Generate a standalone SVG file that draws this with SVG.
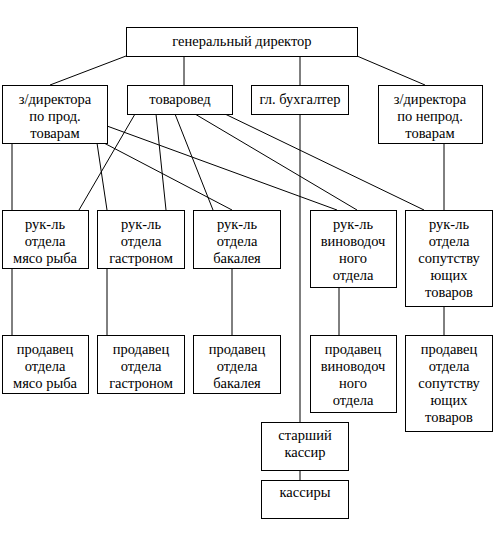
<svg xmlns="http://www.w3.org/2000/svg" width="496" height="537" viewBox="0 0 496 537" font-family="Liberation Serif, DejaVu Serif, serif">
<style>
rect{fill:#fff;stroke:#000;stroke-width:1}
line{stroke:#000;stroke-width:1}
text{font-size:14.5px;text-anchor:middle;fill:#000}
</style>
<rect x="0" y="0" width="496" height="537" style="stroke:none"/>
<g id="connectors">
<line x1="126" y1="56" x2="50" y2="85"/>
<line x1="184" y1="56" x2="184" y2="85"/>
<line x1="300" y1="56" x2="300" y2="85"/>
<line x1="357" y1="56" x2="425" y2="85"/>
<line x1="12" y1="143" x2="12" y2="210"/>
<line x1="97" y1="143" x2="107" y2="210"/>
<line x1="104" y1="143" x2="232" y2="210"/>
<line x1="107" y1="126" x2="337" y2="210"/>
<line x1="135" y1="114" x2="79" y2="210"/>
<line x1="156" y1="114" x2="166" y2="210"/>
<line x1="175" y1="114" x2="213" y2="210"/>
<line x1="195" y1="114" x2="357" y2="210"/>
<line x1="225" y1="114" x2="424" y2="210"/>
<line x1="444" y1="143" x2="444" y2="210"/>
<line x1="300" y1="114" x2="300" y2="422"/>
<line x1="12" y1="268" x2="12" y2="335"/>
<line x1="107" y1="268" x2="107" y2="335"/>
<line x1="232" y1="268" x2="232" y2="335"/>
<line x1="339" y1="287" x2="339" y2="335"/>
<line x1="444" y1="306" x2="444" y2="335"/>
<line x1="300" y1="470" x2="300" y2="480"/>
</g>
<g id="gen-director"><rect x="126.5" y="27.5" width="231" height="29"/><text x="242" y="46">генеральный директор</text></g>
<g id="zam-prod"><rect x="2.5" y="85.5" width="105" height="58"/><text x="55" y="104">з/директора</text><text x="55" y="121">по прод.</text><text x="55" y="138">товарам</text></g>
<g id="tovaroved"><rect x="127.5" y="85.5" width="105" height="29"/><text x="180" y="104">товаровед</text></g>
<g id="gl-buh"><rect x="251.5" y="85.5" width="97" height="29"/><text x="300" y="104">гл. бухгалтер</text></g>
<g id="zam-neprod"><rect x="378.5" y="85.5" width="104" height="58"/><text x="430" y="104">з/директора</text><text x="430" y="121">по непрод.</text><text x="430" y="138">товарам</text></g>
<g id="ruk-myaso"><rect x="2.5" y="210.5" width="86" height="58"/><text x="45" y="229">рук-ль</text><text x="45" y="246">отдела</text><text x="45" y="263">мясо рыба</text></g>
<g id="ruk-gastronom"><rect x="97.5" y="210.5" width="87" height="58"/><text x="141" y="229">рук-ль</text><text x="141" y="246">отдела</text><text x="141" y="263">гастроном</text></g>
<g id="ruk-bakaleya"><rect x="193.5" y="210.5" width="87" height="58"/><text x="237" y="229">рук-ль</text><text x="237" y="246">отдела</text><text x="237" y="263">бакалея</text></g>
<g id="ruk-vino"><rect x="310.5" y="210.5" width="86" height="77"/><text x="353" y="229">рук-ль</text><text x="353" y="246">виноводоч</text><text x="353" y="263">ного</text><text x="353" y="280">отдела</text></g>
<g id="ruk-soput"><rect x="405.5" y="210.5" width="87" height="96"/><text x="449" y="229">рук-ль</text><text x="449" y="246">отдела</text><text x="449" y="263">сопутству</text><text x="449" y="280">ющих</text><text x="449" y="297">товаров</text></g>
<g id="prod-myaso"><rect x="2.5" y="335.5" width="86" height="58"/><text x="45" y="354">продавец</text><text x="45" y="371">отдела</text><text x="45" y="388">мясо рыба</text></g>
<g id="prod-gastronom"><rect x="97.5" y="335.5" width="87" height="58"/><text x="141" y="354">продавец</text><text x="141" y="371">отдела</text><text x="141" y="388">гастроном</text></g>
<g id="prod-bakaleya"><rect x="193.5" y="335.5" width="87" height="58"/><text x="237" y="354">продавец</text><text x="237" y="371">отдела</text><text x="237" y="388">бакалея</text></g>
<g id="prod-vino"><rect x="310.5" y="335.5" width="86" height="77"/><text x="353" y="354">продавец</text><text x="353" y="371">виноводоч</text><text x="353" y="388">ного</text><text x="353" y="405">отдела</text></g>
<g id="prod-soput"><rect x="405.5" y="335.5" width="87" height="96"/><text x="449" y="354">продавец</text><text x="449" y="371">отдела</text><text x="449" y="388">сопутству</text><text x="449" y="405">ющих</text><text x="449" y="422">товаров</text></g>
<g id="st-kassir"><rect x="261.5" y="422.5" width="87" height="48"/><text x="305" y="440">старший</text><text x="305" y="457">кассир</text></g>
<g id="kassiry"><rect x="261.5" y="480.5" width="87" height="38"/><text x="305" y="497">кассиры</text></g>
</svg>
